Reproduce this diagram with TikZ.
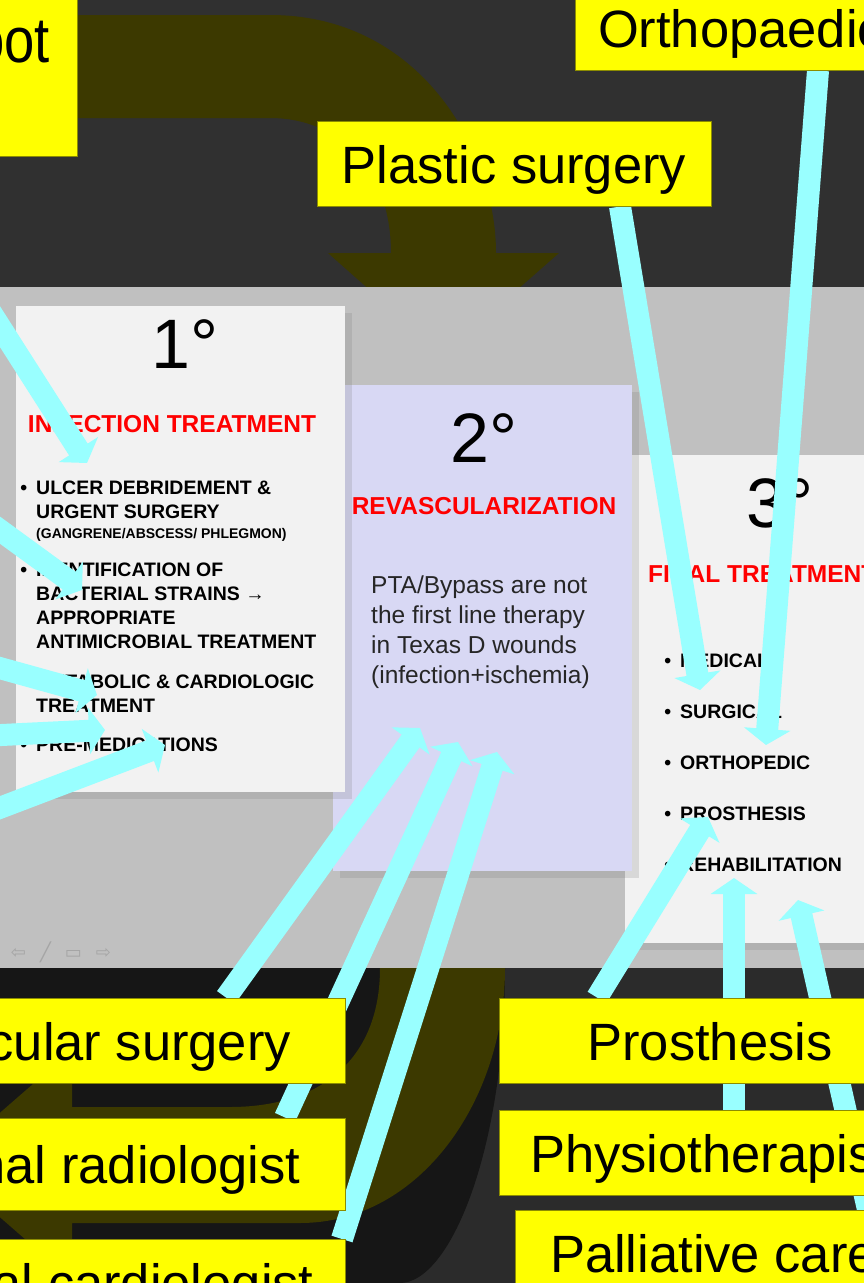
\documentclass[tikz,border=0pt]{standalone}
\usepackage{fontspec}
\setmainfont{Liberation Sans}
\newfontfamily\symfont{DejaVu Sans}
\newfontfamily\narrowsans[FakeStretch=0.85]{Liberation Sans}
\usepackage{tikz}
\usetikzlibrary{positioning, arrows.meta, shadows}
\pgfdeclarelayer{front}
\pgfsetlayers{main,front}
\definecolor{tagyellow}{RGB}{255, 255, 0}
\definecolor{tagedge}{RGB}{140, 140, 0}
\definecolor{arrowcyan}{RGB}{153, 255, 255}
\definecolor{cardwhite}{RGB}{242, 242, 242}
\definecolor{cardlilac}{RGB}{216, 216, 244}
\definecolor{slidegray}{RGB}{192, 192, 192}
\definecolor{darkbg}{RGB}{48, 48, 48}
\definecolor{deepbg}{RGB}{22, 22, 22}
\definecolor{olivearrow}{RGB}{60, 57, 0}
\definecolor{headred}{RGB}{255, 0, 0}
\definecolor{navgray}{RGB}{165, 165, 165}

\newcommand{\dotitem}{\llap{\textbullet\hspace{9pt}}}

\tikzset{
    tag/.style={draw=tagedge, line width=1pt, fill=tagyellow, inner sep=0pt, text height=39pt, text depth=0pt, font=\fontsize{52.5}{60}\selectfont},
    card/.style={anchor=north west, inner sep=0pt, drop shadow={opacity=0.22, shadow xshift=7pt, shadow yshift=-7pt}},
    numeral/.style={anchor=base, inner sep=0pt, font=\fontsize{70}{80}\selectfont},
    heading/.style={anchor=base, inner sep=0pt, text=headred, font=\bfseries\fontsize{24.5}{28}\selectfont},
    items/.style={anchor=base west, inner sep=0pt, align=left, font=\bfseries\fontsize{19.5}{24}\selectfont},
    pointer/.style={draw=arrowcyan, line width=22pt, -{Triangle[length=16pt, width=46pt]}}
}

\begin{document}
\begin{tikzpicture}[x=1pt, y=-1pt]
    \useasboundingbox (0,0) rectangle (864,1283);
    \clip (0,0) rectangle (864,1283);

    % Backdrop
    \fill[darkbg] (0,0) rectangle (864,287);
    \fill[darkbg!90!black] (0,968) rectangle (864,1283);
    \fill[deepbg] (0,968) -- (505,968) .. controls (505,1150) and (450,1283) .. (400,1283) -- (0,1283) -- cycle;
    \fill[olivearrow] (77,15) -- (270,15) .. controls (420,15) and (496,150) .. (496,253) -- (559,253) -- (443,355) -- (328,253) -- (391,253) .. controls (391,170) and (340,118) .. (270,118) -- (77,118) -- cycle;
    \fill[olivearrow] (505,968) .. controls (505,1100) and (420,1223) .. (300,1223) -- (72,1223) -- (72,1280) -- (-60,1165) -- (72,1050) -- (72,1107) -- (230,1107) .. controls (320,1107) and (380,1060) .. (380,968) -- cycle;
    \fill[slidegray] (0,287) rectangle (864,968);

    % Cards
    \node (card3) [card, fill=cardwhite, minimum width=250pt, minimum height=488pt] at (625,455) {};
    \node (card2) [card, fill=cardlilac, minimum width=299pt, minimum height=486pt] at (333,385) {};
    \node (card1) [card, fill=cardwhite, minimum width=329pt, minimum height=486pt] at (16,306) {};

    % Card texts (multi-line nodes sit on their last baseline)
    \node (deg1) [numeral] at (185,368) {1°};
    \node (infection) [heading] at (172,432) {INFECTION TREATMENT};
    \node (ulcer) [items] at (36,518) {\dotitem ULCER DEBRIDEMENT \&\\URGENT SURGERY};
    \node (gangrene) [items, font=\bfseries\fontsize{14}{16}\selectfont] at (36,538) {(GANGRENE/ABSCESS/ PHLEGMON)};
    \node (strains) [items] at (36,648) {\dotitem IDENTIFICATION OF\\BACTERIAL STRAINS →\\APPROPRIATE\\ANTIMICROBIAL TREATMENT};
    \node (metabolic) [items] at (36,712) {\dotitem METABOLIC \& CARDIOLOGIC\\TREATMENT};
    \node (premed) [items] at (36,751) {\dotitem PRE-MEDICATIONS};

    \node (deg2) [numeral] at (484,462) {2°};
    \node (revasc) [heading] at (484,514) {REVASCULARIZATION};
    \node (ptanote) [anchor=base west, inner sep=0pt, align=left, text=black!85, font=\fontsize{24.5}{30}\selectfont] at (371,683) {PTA/Bypass are not\\the first line therapy\\in Texas D wounds\\(infection+ischemia)};

    \node (deg3) [numeral, anchor=base west] at (746,527) {3°};
    \node (final) [heading, anchor=base west] at (648,582) {FINAL TREATMENT};
    \node (finallist) [items, font=\bfseries\fontsize{19.5}{51}\selectfont] at (680,871) {\dotitem MEDICAL\\\dotitem SURGICAL\\\dotitem ORTHOPEDIC\\\dotitem PROSTHESIS\\\dotitem REHABILITATION};

    \node (navbar) [text=navgray, font=\symfont\fontsize{18}{18}\selectfont] at (61,952) {⇦\hspace{14pt}╱\hspace{14pt}▭\hspace{14pt}⇨};

    % Labels (front layer, over the arrows)
    \begin{pgfonlayer}{front}
    \node (foot) [tag, minimum width=161pt, minimum height=216pt, text height=28pt, font=\narrowsans\fontsize{64}{70}\selectfont] at (-3.5,48) {\hspace{16.4pt}foot};
    \node (ortho) [tag, minimum width=332pt, minimum height=85pt] at (741,27.5) {Orthopaedic};
    \node (plastic) [tag, minimum width=394pt, minimum height=85pt] at (514,163.5) {Plastic surgery};
    \node (vascular) [tag, minimum width=498pt, minimum height=85pt] at (96,1040.5) {Vascular surgery};
    \node (radiologist) [tag, minimum width=658pt, minimum height=92pt] at (16,1164) {Interventional radiologist};
    \node (cardiologist) [tag, minimum width=658pt, minimum height=85pt] at (16,1282) {Interventional cardiologist};
    \node (prosthesis) [tag, minimum width=422pt, minimum height=85pt] at (710,1040.5) {Prosthesis};
    \node (physio) [tag, minimum width=421pt, minimum height=85pt] at (709.5,1152.5) {Physiotherapist};
    \node (palliative) [tag, minimum width=397pt, minimum height=85pt] at (713.5,1252.5) {Palliative care};
    \end{pgfonlayer}

    % Arrow ends
    \coordinate (west1) at (-40,264);
    \coordinate (west2) at (-40,501);
    \coordinate (west3) at (-40,657);
    \coordinate (west4) at (-40,737);
    \coordinate (west5) at (-40,823);
    \coordinate (ulcerhit) at (87,463);
    \coordinate (strainhit) at (82,590);
    \coordinate (metabhit) at (97,695);
    \coordinate (treathit) at (105,730);
    \coordinate (premedhit) at (165,745);
    \coordinate (surgicalhit) at (700,690);
    \coordinate (orthohit) at (766,745);
    \coordinate (revascA) at (420,728);
    \coordinate (revascB) at (458,742);
    \coordinate (revascC) at (497,752);
    \coordinate (prosthit) at (708,817);
    \coordinate (rehabA) at (734,878);
    \coordinate (rehabB) at (798,900);

    % Arrows
    \draw[pointer] (west1) -- (ulcerhit);
    \draw[pointer] (west2) -- (strainhit);
    \draw[pointer] (west3) -- (metabhit);
    \draw[pointer] (west4) -- (treathit);
    \draw[pointer] (west5) -- (premedhit);
    \draw[pointer] ([xshift=106pt]plastic.south) -- (surgicalhit);
    \draw[pointer] ([xshift=77pt]ortho.south) -- (orthohit);
    \draw[pointer] ([xshift=130pt]vascular.north) -- (revascA);
    \draw[pointer] ([xshift=269pt]radiologist.north) -- (revascB);
    \draw[pointer] ([xshift=326pt]cardiologist.north) -- (revascC);
    \draw[pointer] ([xshift=-113pt]prosthesis.north) -- (prosthit);
    \draw[pointer] ([xshift=24.5pt]physio.north) -- (rehabA);
    \draw[pointer] ([xshift=154.5pt]palliative.north) -- (rehabB);
\end{tikzpicture}
\end{document}
